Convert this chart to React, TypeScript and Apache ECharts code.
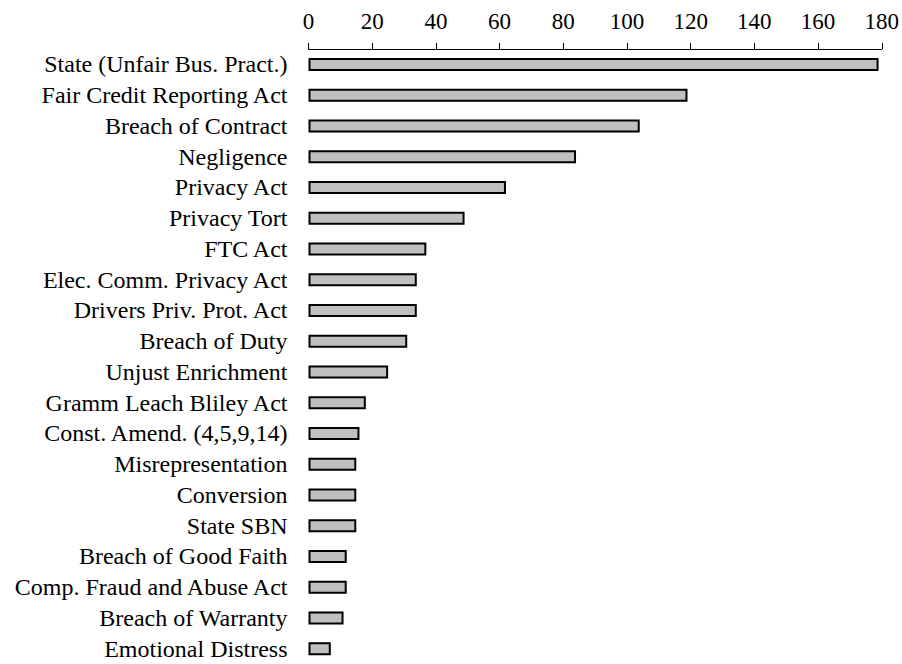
import React, { useEffect, useRef } from "react";
import * as echarts from "echarts";

const categories = [
  "State (Unfair Bus. Pract.)",
  "Fair Credit Reporting Act",
  "Breach of Contract",
  "Negligence",
  "Privacy Act",
  "Privacy Tort",
  "FTC Act",
  "Elec. Comm. Privacy Act",
  "Drivers Priv. Prot. Act",
  "Breach of Duty",
  "Unjust Enrichment",
  "Gramm Leach Bliley Act",
  "Const. Amend. (4,5,9,14)",
  "Misrepresentation",
  "Conversion",
  "State SBN",
  "Breach of Good Faith",
  "Comp. Fraud and Abuse Act",
  "Breach of Warranty",
  "Emotional Distress",
];

const values = [179, 119, 104, 84, 62, 49, 37, 34, 34, 31, 25, 18, 16, 15, 15, 15, 12, 12, 11, 7];

export default function App() {
  const ref = useRef<HTMLDivElement>(null);
  useEffect(() => {
    document.body.style.margin = "0";
    const chart = echarts.init(ref.current!, null, { renderer: "svg" });
    const font = "'Liberation Serif', 'Times New Roman', serif";
    chart.setOption({
      animation: false,
      backgroundColor: "#ffffff",
      grid: { left: 308.5, top: 49, width: 575, height: 620, containLabel: false },
      xAxis: {
        type: "value",
        position: "top",
        min: 0,
        max: 180,
        interval: 20,
        axisLine: { show: true, lineStyle: { color: "#000", width: 1 } },
        axisTick: { show: true, length: 6, lineStyle: { color: "#000", width: 1 } },
        axisLabel: { color: "#000", fontFamily: font, fontSize: 23, margin: 16 },
        splitLine: { show: false },
      },
      yAxis: {
        type: "category",
        data: categories,
        inverse: true,
        axisLine: { show: false },
        axisTick: { show: false },
        axisLabel: { color: "#000", fontFamily: font, fontSize: 24, margin: 21, interval: 0 },
      },
      series: [
        {
          type: "bar",
          data: values,
          barWidth: 13,
          itemStyle: { color: "#c0c0c0", borderColor: "#000", borderWidth: 2 },
        },
      ],
    });
    return () => chart.dispose();
  }, []);
  return <div ref={ref} style={{ width: 902, height: 664, overflow: "hidden" }} />;
}
